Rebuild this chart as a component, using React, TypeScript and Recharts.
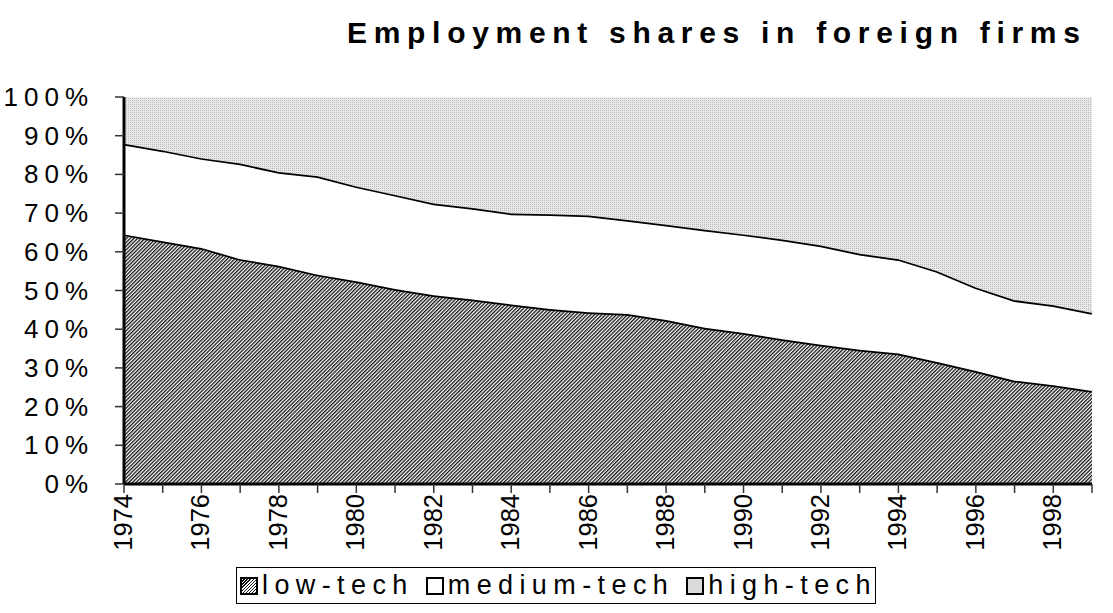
import React from 'react';
import { AreaChart, Area, XAxis, YAxis } from 'recharts';

// shares of employment in foreign firms, % of total
const years = [
  1974, 1975, 1976, 1977, 1978, 1979, 1980, 1981, 1982, 1983, 1984, 1985, 1986,
  1987, 1988, 1989, 1990, 1991, 1992, 1993, 1994, 1995, 1996, 1997, 1998, 1999,
];
const lowTech = [
  64.5, 62.7, 61.0, 58.1, 56.4, 54.1, 52.4, 50.4, 48.8, 47.7, 46.4, 45.2, 44.4,
  43.9, 42.4, 40.4, 39.0, 37.4, 36.0, 34.7, 33.7, 31.5, 29.2, 26.7, 25.5, 24.0,
];
const mediumTech = [
  23.4, 23.5, 23.2, 24.7, 24.2, 25.4, 24.5, 24.3, 23.7, 23.6, 23.5, 24.5, 25.0,
  24.3, 24.6, 25.3, 25.5, 25.8, 25.6, 24.8, 24.4, 23.5, 21.6, 20.8, 20.7, 20.2,
];
const highTech = [
  12.1, 13.8, 15.8, 17.2, 19.4, 20.5, 23.1, 25.3, 27.5, 28.7, 30.1, 30.3, 30.6,
  31.8, 33.0, 34.3, 35.5, 36.8, 38.4, 40.5, 41.9, 45.0, 49.2, 52.5, 53.8, 55.8,
];
const yTicks = [0, 10, 20, 30, 40, 50, 60, 70, 80, 90, 100];

const data = years.map((year, i) => ({
  year,
  low: lowTech[i],
  medium: mediumTech[i],
  high: highTech[i],
}));

const FONT = "'Liberation Sans', Arial, sans-serif";
const border = { stroke: '#000', strokeWidth: 3 };

function YearTick({ x, y, payload }: any) {
  if (payload.value % 2 !== 0) return <g />;
  return (
    <text
      transform={`translate(${x - 1},${y - 1}) rotate(-90)`}
      textAnchor="end"
      dominantBaseline="central"
      fontFamily={FONT}
      fontSize={25.5}
      fill="#000"
    >
      {payload.value}
    </text>
  );
}

function PctTick({ x, y, payload }: any) {
  return (
    <text
      x={x - 19}
      y={y}
      textAnchor="end"
      dominantBaseline="central"
      fontFamily={FONT}
      fontSize={26}
      letterSpacing={6}
      fill="#000"
    >
      {payload.value}%
    </text>
  );
}

const hatchCss =
  'repeating-linear-gradient(-45deg, #111 0px, #111 1px, #fff 1px, #fff 2.2px)';

function LegendItem({ fill, label, last }: { fill: string; label: string; last?: boolean }) {
  return (
    <div style={{ display: 'flex', alignItems: 'center', marginRight: last ? 0 : 12 }}>
      <span
        style={{
          display: 'inline-block',
          width: 14,
          height: 14,
          border: '2px solid #000',
          background: fill,
          marginRight: 4,
        }}
      />
      <span>{label}</span>
    </div>
  );
}

export default function App() {
  return (
    <div style={{ position: 'absolute', left: 0, top: 0, width: 1113, height: 613, background: '#fff' }}>
      <div
        style={{
          position: 'absolute',
          left: 347,
          top: 15,
          fontFamily: FONT,
          fontWeight: 'bold',
          fontSize: 30,
          lineHeight: '36px',
          letterSpacing: 6.7,
          whiteSpace: 'nowrap',
        }}
      >
        Employment shares in foreign firms
      </div>

      <AreaChart
        width={1113}
        height={613}
        data={data}
        margin={{ top: 97, right: 21, bottom: 0, left: 0 }}
      >
        <defs>
          <pattern id="hatch" width="2.6" height="2.6" patternUnits="userSpaceOnUse" patternTransform="rotate(45)">
            <rect width="2.6" height="2.6" fill="#fff" />
            <rect width="1.3" height="2.6" fill="#111" />
          </pattern>
          <pattern id="dots" width="2" height="2" patternUnits="userSpaceOnUse">
            <rect width="2" height="2" fill="#e8e8e8" />
            <rect width="1" height="1" fill="#bdbdbd" />
          </pattern>
        </defs>

        <XAxis
          dataKey="year"
          type="number"
          domain={[1974, 1999]}
          ticks={years}
          interval={0}
          height={129}
          tickSize={9}
          tickLine={{ stroke: '#333', strokeWidth: 1.5 }}
          axisLine={border}
          tick={<YearTick />}
        />
        <XAxis
          xAxisId="top"
          orientation="top"
          dataKey="year"
          type="number"
          domain={[1974, 1999]}
          height={0}
          tick={false}
          tickLine={false}
          axisLine={border}
        />
        <YAxis
          domain={[0, 100]}
          ticks={yTicks}
          interval={0}
          width={124}
          tickSize={9}
          tickLine={{ stroke: '#333', strokeWidth: 1.5 }}
          axisLine={border}
          tick={<PctTick />}
        />
        <YAxis
          yAxisId="right"
          orientation="right"
          domain={[0, 100]}
          width={0}
          tick={false}
          tickLine={false}
          axisLine={border}
        />

        <Area
          type="linear"
          dataKey="low"
          stackId="share"
          fill="url(#hatch)"
          fillOpacity={1}
          stroke="#000"
          strokeWidth={3.5}
          isAnimationActive={false}
        />
        <Area
          type="linear"
          dataKey="medium"
          stackId="share"
          fill="#fff"
          fillOpacity={1}
          stroke="#000"
          strokeWidth={3.5}
          isAnimationActive={false}
        />
        <Area
          type="linear"
          dataKey="high"
          stackId="share"
          fill="url(#dots)"
          fillOpacity={1}
          stroke="none"
          isAnimationActive={false}
        />
      </AreaChart>

      <div
        style={{
          position: 'absolute',
          left: 236,
          top: 567,
          width: 640,
          height: 37,
          boxSizing: 'border-box',
          border: '1.5px solid #000',
          display: 'flex',
          alignItems: 'center',
          paddingLeft: 3,
          fontFamily: FONT,
          fontSize: 27,
          letterSpacing: 6.4,
          whiteSpace: 'nowrap',
        }}
      >
        <LegendItem fill={hatchCss} label="low-tech" />
        <LegendItem fill="#fff" label="medium-tech" />
        <LegendItem fill="#dcdcdc" label="high-tech" last />
      </div>
    </div>
  );
}
